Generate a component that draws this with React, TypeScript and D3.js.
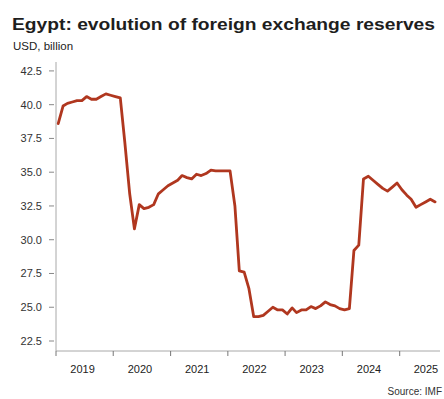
import React from "react";
import * as d3 from "d3";

const TITLE = "Egypt: evolution of foreign exchange reserves";
const SUBTITLE = "USD, billion";
const SOURCE = "Source: IMF";

const START_YEAR = 2019;
const START_MONTH = 0;
const reserves: number[] = [
  // 2019
  38.6, 39.9, 40.1, 40.2, 40.3, 40.3, 40.6, 40.4, 40.4, 40.6, 40.8, 40.7,
  // 2020
  40.6, 40.5, 37.2, 33.4, 30.8, 32.6, 32.3, 32.4, 32.6, 33.4, 33.7, 34.0,
  // 2021
  34.2, 34.4, 34.75, 34.6, 34.5, 34.85, 34.75, 34.9, 35.15, 35.1, 35.1, 35.1,
  // 2022
  35.1, 32.5, 27.7, 27.6, 26.4, 24.3, 24.3, 24.4, 24.7, 25.0, 24.8, 24.8,
  // 2023
  24.5, 24.95, 24.6, 24.8, 24.8, 25.05, 24.9, 25.1, 25.4, 25.2, 25.1, 24.9,
  // 2024
  24.8, 24.9, 29.2, 29.6, 34.5, 34.7, 34.4, 34.1, 33.8, 33.6, 33.9, 34.2,
  // 2025
  33.7, 33.3, 33.0, 32.4, 32.6, 32.8, 33.0, 32.8,
];

const yTicks = [22.5, 25.0, 27.5, 30.0, 32.5, 35.0, 37.5, 40.0, 42.5];
const yearLabels = [2019, 2020, 2021, 2022, 2023, 2024, 2025];
const yearTicks = [2019, 2020, 2021, 2022, 2023, 2024, 2025];

export default function App() {
  const W = 444;
  const H = 399;
  const left = 56;
  const right = 440;
  const top = 62;
  const bottom = 351;

  const x = d3
    .scaleTime()
    .domain([new Date(2019, 0, 1), new Date(2025, 8, 15)])
    .range([left, right]);
  const y = d3.scaleLinear().domain([21.76, 43.16]).range([bottom, top]);

  const data = reserves.map((v, i) => ({
    date: new Date(START_YEAR, START_MONTH + i, 15),
    value: v,
  }));

  const line = d3
    .line<{ date: Date; value: number }>()
    .x((d) => x(d.date))
    .y((d) => y(d.value));

  const font = "'Liberation Sans', Arial, sans-serif";
  const axisColor = "#a8a8a8";

  return (
    <svg
      width={W}
      height={H}
      style={{ position: "absolute", left: 0, top: 0, background: "#fff" }}
      fontFamily={font}
    >
      <rect x={0} y={0} width={W} height={H} fill="#fff" />
      <text x={12} y={30} fontSize={16} fontWeight="bold" fill="#1e1e1e" textLength={423} lengthAdjust="spacingAndGlyphs">
        {TITLE}
      </text>
      <text x={13} y={50} fontSize={11.5} fill="#222">
        {SUBTITLE}
      </text>

      {/* y axis */}
      <line x1={left} x2={left} y1={top} y2={bottom} stroke={axisColor} strokeWidth={1} />
      {yTicks.map((t) => (
        <g key={t}>
          <line x1={49} x2={54} y1={y(t)} y2={y(t)} stroke="#888" strokeWidth={1} />
          <text x={42} y={y(t) + 4} fontSize={11} textAnchor="end" fill="#333">
            {t.toFixed(1)}
          </text>
        </g>
      ))}

      {/* x axis */}
      <line x1={left} x2={right} y1={bottom} y2={bottom} stroke={axisColor} strokeWidth={1} />
      {yearTicks.map((yr) => (
        <line
          key={yr}
          x1={x(new Date(yr, 0, 1))}
          x2={x(new Date(yr, 0, 1))}
          y1={bottom}
          y2={bottom + 5}
          stroke="#777"
          strokeWidth={1}
        />
      ))}
      {yearLabels.map((yr) => {
        const cx = (x(new Date(yr, 0, 1)) + x(new Date(yr + 1, 0, 1))) / 2;
        return (
          <text key={yr} x={Math.min(cx - 2, 426)} y={373} fontSize={11} textAnchor="middle" fill="#222">
            {yr}
          </text>
        );
      })}

      <path d={line(data) || ""} fill="none" stroke="#b0371f" strokeWidth={2.8} strokeLinejoin="round" strokeLinecap="round" />

      <text x={442} y={395} fontSize={10} textAnchor="end" fill="#333">
        {SOURCE}
      </text>
    </svg>
  );
}
